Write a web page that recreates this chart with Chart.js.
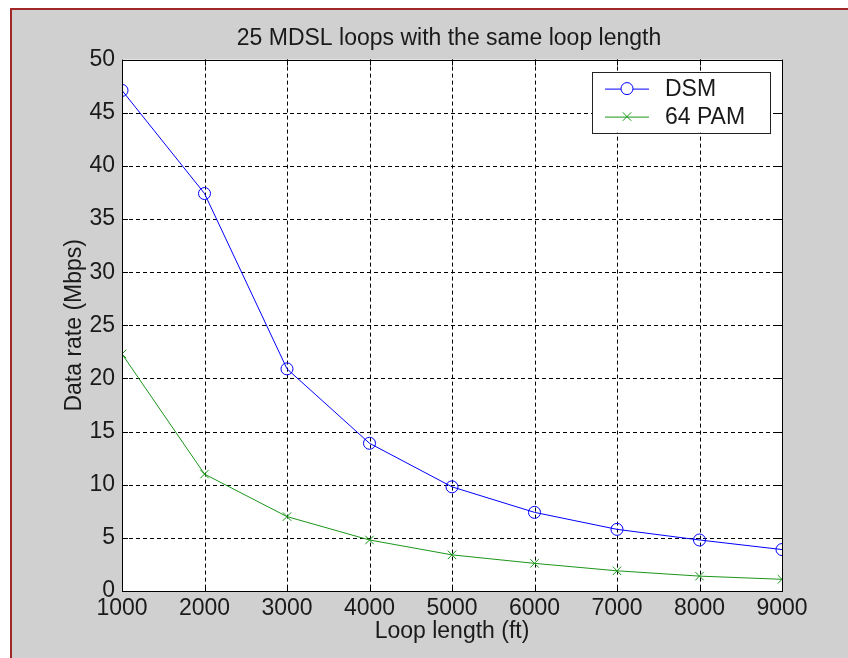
<!DOCTYPE html>
<html>
<head>
<meta charset="utf-8">
<script src="https://cdn.jsdelivr.net/npm/chart.js@4.4.0/dist/chart.umd.min.js"></script>
<style>
  html, body { margin: 0; padding: 0; background: #fff; }
  #wrap { position: relative; width: 848px; height: 658px; overflow: hidden; }
  #frame {
    position: absolute; left: 10px; top: 8px; width: 900px; height: 700px;
    background: #d0d0d0; border-left: 2px solid #a12828; border-top: 2px solid #a12828;
  }
  #plotBg { position: absolute; background: #ffffff; }
  #chart { position: absolute; left: 0; top: 0; }
</style>
</head>
<body>
<div id="wrap">
  <div id="frame"></div>
  <div id="plotBg"></div>
  <canvas id="chart" width="848" height="658"></canvas>
</div>
<script>
// loop length in ft
const loopLengths = [1000, 2000, 3000, 4000, 5000, 6000, 7000, 8000, 9000];
// data rates in Mbps
const dsmRates = [47.1, 37.4, 20.9, 13.9, 9.8, 7.4, 5.8, 4.8, 3.9];
const pamRates = [22.3, 11.0, 7.0, 4.8, 3.4, 2.6, 1.9, 1.4, 1.1];
const xTicks = [1000, 2000, 3000, 4000, 5000, 6000, 7000, 8000, 9000];
const yTicks = [0, 5, 10, 15, 20, 25, 30, 35, 40, 45, 50];

const FONT = "'Liberation Sans', Arial, sans-serif";
const TEXT = '#1a1a1a';

// white plot area + dashed grid, painted just before the lines
const gridPlugin = {
    id: 'plotGrid',
    afterLayout(chart) {
        const a = chart.chartArea;
        const bg = document.getElementById('plotBg');
        bg.style.left = a.left + 'px';
        bg.style.top = a.top + 'px';
        bg.style.width = (a.right - a.left) + 'px';
        bg.style.height = (a.bottom - a.top) + 'px';
    },
    beforeDatasetsDraw(chart) {
        const { ctx, chartArea: a, scales } = chart;
        ctx.save();
        ctx.globalCompositeOperation = 'source-over';
        ctx.globalAlpha = 1;
        ctx.fillStyle = '#ffffff';
        ctx.fillRect(a.left, a.top, a.right - a.left, a.bottom - a.top);
        ctx.strokeStyle = '#000';
        ctx.lineWidth = 1;
        ctx.setLineDash([4, 3]);
        ctx.beginPath();
        xTicks.slice(1, -1).forEach(v => {
            const x = Math.round(scales.x.getPixelForValue(v)) + 0.5;
            ctx.moveTo(x, a.top); ctx.lineTo(x, a.bottom);
        });
        yTicks.slice(1, -1).forEach(v => {
            const y = Math.round(scales.y.getPixelForValue(v)) + 0.5;
            ctx.moveTo(a.left, y); ctx.lineTo(a.right, y);
        });
        ctx.stroke();
        ctx.restore();
    }
};

// box around plot area + small inward tick marks
const boxPlugin = {
    id: 'box',
    afterDatasetsDraw(chart) {
        const { ctx, chartArea: a, scales } = chart;
        ctx.save();
        ctx.strokeStyle = '#000';
        ctx.lineWidth = 1;
        ctx.setLineDash([]);
        ctx.beginPath();
        xTicks.forEach(v => {
            const x = Math.round(scales.x.getPixelForValue(v)) + 0.5;
            ctx.moveTo(x, a.bottom); ctx.lineTo(x, a.bottom - 6);
            ctx.moveTo(x, a.top); ctx.lineTo(x, a.top + 6);
        });
        yTicks.forEach(v => {
            const y = Math.round(scales.y.getPixelForValue(v)) + 0.5;
            ctx.moveTo(a.left, y); ctx.lineTo(a.left + 6, y);
            ctx.moveTo(a.right, y); ctx.lineTo(a.right - 6, y);
        });
        ctx.stroke();
        ctx.strokeRect(Math.round(a.left) + 0.5, Math.round(a.top) + 0.5,
            Math.round(a.right - a.left), Math.round(a.bottom - a.top));
        ctx.restore();
    }
};

// matlab-style legend inside the upper right corner
const legendPlugin = {
    id: 'boxLegend',
    afterDraw(chart) {
        const { ctx, chartArea: a } = chart;
        const w = 178, h = 61;
        const x0 = a.right - 12 - w, y0 = a.top + 12;
        ctx.save();
        ctx.fillStyle = '#fff';
        ctx.fillRect(x0, y0, w, h);
        ctx.strokeStyle = '#222';
        ctx.lineWidth = 1;
        ctx.strokeRect(Math.round(x0) + 0.5, Math.round(y0) + 0.5, w, h);
        ctx.font = '23px ' + FONT;
        ctx.textBaseline = 'middle';
        chart.data.datasets.forEach((ds, i) => {
            const cy = y0 + 17 + i * 28;
            ctx.strokeStyle = ds.borderColor;
            ctx.lineWidth = 1;
            ctx.beginPath();
            ctx.moveTo(x0 + 13, cy + 0.5);
            ctx.lineTo(x0 + 57, cy + 0.5);
            ctx.stroke();
            ctx.fillStyle = '#fff';
            Chart.helpers.drawPoint(ctx, {
                pointStyle: ds.pointStyle, radius: ds.pointRadius, borderWidth: 1, rotation: 0
            }, x0 + 35, cy);
            ctx.fillStyle = TEXT;
            ctx.fillText(ds.label, x0 + 73, cy + 1);
        });
        ctx.restore();
    }
};

new Chart(document.getElementById('chart'), {
    type: 'line',
    data: {
        datasets: [
            {
                label: 'DSM',
                data: loopLengths.map((x, i) => ({ x, y: dsmRates[i] })),
                borderColor: '#0000ff',
                backgroundColor: 'rgba(0,0,0,0)',
                pointBackgroundColor: 'rgba(0,0,0,0)',
                fill: false,
                borderWidth: 1,
                pointStyle: 'circle',
                pointRadius: 6,
                pointBorderWidth: 1,
                tension: 0
            },
            {
                label: '64 PAM',
                data: loopLengths.map((x, i) => ({ x, y: pamRates[i] })),
                borderColor: '#1a961a',
                backgroundColor: 'rgba(0,0,0,0)',
                pointBackgroundColor: 'rgba(0,0,0,0)',
                fill: false,
                borderWidth: 1,
                pointStyle: 'crossRot',
                pointRadius: 6,
                pointBorderWidth: 1,
                tension: 0
            }
        ]
    },
    options: {
        responsive: false,
        animation: false,
        layout: { padding: { left: 50, right: 0, top: 0, bottom: 0 } },
        plugins: {
            legend: { display: false },
            tooltip: { enabled: false },
            title: {
                display: true,
                text: '25 MDSL loops with the same loop length',
                color: TEXT,
                font: { family: FONT, size: 23, weight: 'normal', lineHeight: 1.2 },
                padding: { top: 25, bottom: 7 }
            }
        },
        scales: {
            x: {
                type: 'linear',
                min: 1000,
                max: 9000,
                afterBuildTicks: s => { s.ticks = xTicks.map(v => ({ value: v })); },
                afterFit: s => { s.height = 67; },
                grid: { display: false, drawTicks: false },
                border: { display: false },
                ticks: {
                    color: TEXT, padding: 4, maxRotation: 0,
                    font: { family: FONT, size: 23 },
                    callback: v => String(v)
                },
                title: {
                    display: true, text: 'Loop length (ft)', color: TEXT,
                    font: { family: FONT, size: 23, lineHeight: 1.2 },
                    padding: { top: 0, bottom: 13 }
                }
            },
            y: {
                min: 0,
                max: 50,
                afterBuildTicks: s => { s.ticks = yTicks.map(v => ({ value: v })); },
                afterFit: s => { s.width = 72; },
                grid: { display: false, drawTicks: false },
                border: { display: false },
                ticks: {
                    color: TEXT, padding: 7,
                    font: { family: FONT, size: 23 }
                },
                title: {
                    display: true, text: 'Data rate (Mbps)', color: TEXT,
                    font: { family: FONT, size: 23, lineHeight: 1.2 },
                    padding: { top: 11, bottom: 0 }
                }
            },
            // empty spacer on the right so the plot ends where the reference does
            yRight: {
                position: 'right',
                min: 0,
                max: 50,
                afterFit: s => { s.width = 66; },
                grid: { display: false, drawTicks: false },
                border: { display: false },
                ticks: { display: false }
            }
        }
    },
    plugins: [gridPlugin, boxPlugin, legendPlugin]
});
</script>
</body>
</html>
